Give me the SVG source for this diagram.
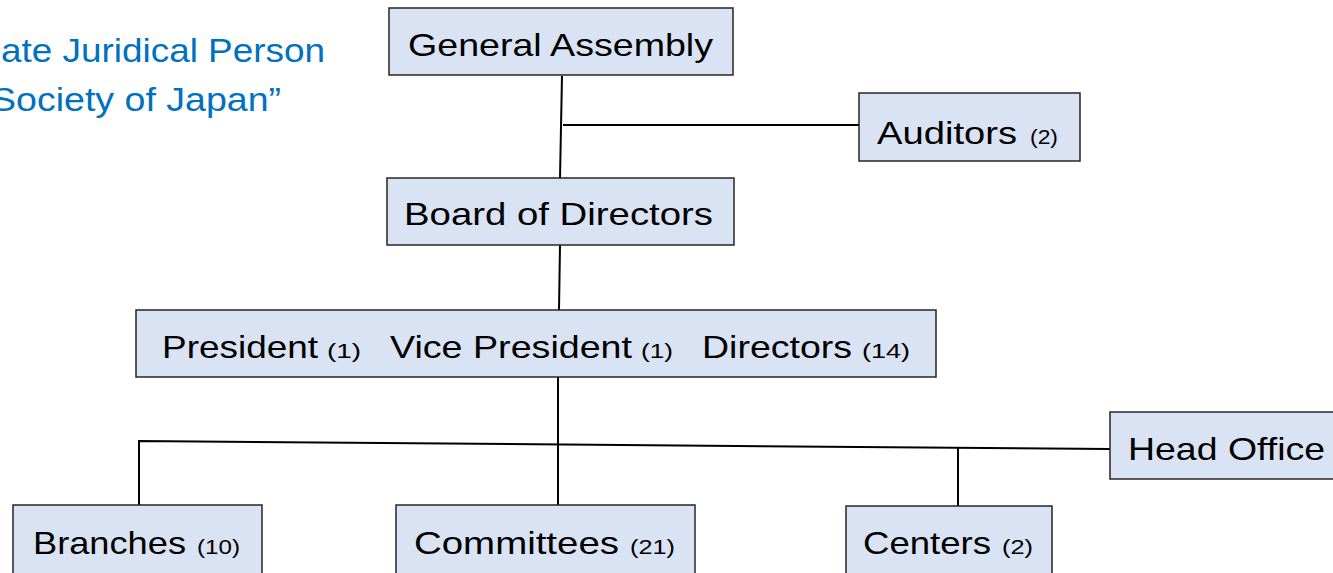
<svg xmlns="http://www.w3.org/2000/svg" width="1333" height="573" viewBox="0 0 1333 573">
<style>
.box{fill:#DAE3F3;stroke:#262626;stroke-width:1.5}
.t{font-family:"Liberation Sans",Arial,sans-serif;font-size:32px;fill:#000}
.s{font-family:"Liberation Sans",Arial,sans-serif;font-size:21px;fill:#000}
.title{font-family:"Liberation Sans",Arial,sans-serif;font-size:34px;fill:#0070C0}
.c{stroke:#000;stroke-width:2;fill:none}
</style>
<rect width="1333" height="573" fill="#fff"/>
<g id="title">
<text class="title" x="1" y="62" textLength="324" lengthAdjust="spacingAndGlyphs">ate Juridical Person</text>
<text class="title" x="-9" y="111" textLength="290" lengthAdjust="spacingAndGlyphs">Society of Japan”</text>
</g>
<g id="connectors">
<line class="c" x1="562" y1="76" x2="560" y2="178"/>
<line class="c" x1="563" y1="125" x2="859" y2="125"/>
<line class="c" x1="560" y1="245" x2="559" y2="310"/>
<line class="c" x1="558" y1="377" x2="558" y2="505"/>
<polyline class="c" points="139,505 139,441 1110,449"/>
<line class="c" x1="958" y1="447" x2="958" y2="507"/>
</g>
<g id="general-assembly">
<rect class="box" x="389" y="8" width="344" height="67"/>
<text class="t" x="408" y="56" textLength="305" lengthAdjust="spacingAndGlyphs">General Assembly</text>
</g>
<g id="auditors">
<rect class="box" x="859" y="93" width="221" height="68"/>
<text class="t" x="877" y="144" textLength="140" lengthAdjust="spacingAndGlyphs">Auditors</text>
<text class="s" x="1030" y="144" textLength="28" lengthAdjust="spacingAndGlyphs">(2)</text>
</g>
<g id="board">
<rect class="box" x="387" y="178" width="347" height="67"/>
<text class="t" x="404" y="225" textLength="309" lengthAdjust="spacingAndGlyphs">Board of Directors</text>
</g>
<g id="officers">
<rect class="box" x="136" y="310" width="800" height="67"/>
<text class="t" x="162" y="358" textLength="156" lengthAdjust="spacingAndGlyphs">President</text>
<text class="s" x="327" y="358" textLength="34" lengthAdjust="spacingAndGlyphs">(1)</text>
<text class="t" x="390" y="358" textLength="242" lengthAdjust="spacingAndGlyphs">Vice President</text>
<text class="s" x="641" y="358" textLength="32" lengthAdjust="spacingAndGlyphs">(1)</text>
<text class="t" x="702" y="358" textLength="150" lengthAdjust="spacingAndGlyphs">Directors</text>
<text class="s" x="862" y="358" textLength="48" lengthAdjust="spacingAndGlyphs">(14)</text>
</g>
<g id="head-office">
<rect class="box" x="1110" y="412" width="230" height="67"/>
<text class="t" x="1128" y="460" textLength="197" lengthAdjust="spacingAndGlyphs">Head Office</text>
</g>
<g id="branches">
<rect class="box" x="13" y="505" width="249" height="75"/>
<text class="t" x="33" y="554" textLength="153" lengthAdjust="spacingAndGlyphs">Branches</text>
<text class="s" x="197" y="554" textLength="43" lengthAdjust="spacingAndGlyphs">(10)</text>
</g>
<g id="committees">
<rect class="box" x="396" y="505" width="299" height="75"/>
<text class="t" x="414" y="554" textLength="205" lengthAdjust="spacingAndGlyphs">Committees</text>
<text class="s" x="630" y="554" textLength="45" lengthAdjust="spacingAndGlyphs">(21)</text>
</g>
<g id="centers">
<rect class="box" x="846" y="506" width="206" height="75"/>
<text class="t" x="863" y="554" textLength="128" lengthAdjust="spacingAndGlyphs">Centers</text>
<text class="s" x="1002" y="554" textLength="31" lengthAdjust="spacingAndGlyphs">(2)</text>
</g>
</svg>
